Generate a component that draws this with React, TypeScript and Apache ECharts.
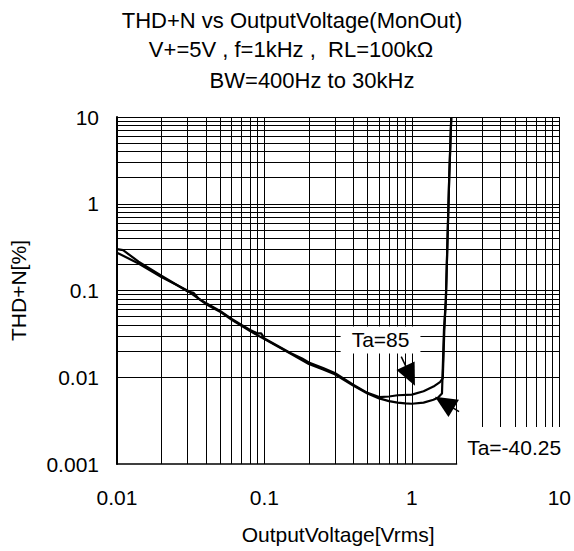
import React, { useEffect, useRef } from "react";
import * as echarts from "echarts";

// ---- data ----
const xTicks = [0.01, 0.1, 1, 10];
const xTickLabels = ["0.01", "0.1", "1", "10"];
const yTicks = [0.001, 0.01, 0.1, 1, 10];
const yTickLabels = ["0.001", "0.01", "0.1", "1", "10"];
const gridMultipliers = [1, 2, 3, 4, 5, 6, 7, 8, 9];

const ta85V = [0.01, 0.011, 0.014, 0.02, 0.025, 0.03, 0.033, 0.036, 0.04, 0.05, 0.06, 0.07, 0.08, 0.09, 0.095, 0.1, 0.12, 0.15, 0.18, 0.2, 0.25, 0.3, 0.4, 0.5, 0.6, 0.7, 0.8, 1.0, 1.2, 1.4, 1.55, 1.62, 1.66, 1.7, 1.79, 1.85];
const ta85T = [0.3, 0.292, 0.215, 0.148, 0.118, 0.098, 0.094, 0.08, 0.072, 0.058, 0.047, 0.04, 0.035, 0.032, 0.032, 0.028, 0.0235, 0.019, 0.0165, 0.0148, 0.0128, 0.0112, 0.0082, 0.0066, 0.0059, 0.006, 0.0062, 0.0063, 0.0069, 0.0078, 0.0088, 0.0097, 0.035, 0.078, 1.9, 10];

const ta40V = [0.01, 0.014, 0.02, 0.03, 0.04, 0.05, 0.06, 0.08, 0.1, 0.15, 0.2, 0.25, 0.3, 0.4, 0.5, 0.6, 0.7, 0.8, 0.9, 1.0, 1.2, 1.4, 1.5, 1.6, 1.65, 1.7, 1.79, 1.85];
const ta40T = [0.273, 0.205, 0.143, 0.1, 0.07, 0.057, 0.046, 0.034, 0.0275, 0.0188, 0.0142, 0.0123, 0.0108, 0.008, 0.0065, 0.0057, 0.0053, 0.0051, 0.005, 0.00495, 0.0051, 0.0055, 0.0058, 0.0065, 0.035, 0.078, 1.9, 10];

const labelTexts = ["Ta=85", "Ta=-40.25"];

const FONT = "'Liberation Sans', Arial, sans-serif";

function pairs(xs: number[], ys: number[]) {
  return xs.map((x, i) => [x, ys[i]]);
}

function lookupLabel(ticks: number[], labels: string[]) {
  return (v: number) => {
    for (let i = 0; i < ticks.length; i++) {
      if (Math.abs(Math.log10(v) - Math.log10(ticks[i])) < 1e-6) return labels[i];
    }
    return "";
  };
}

function gridValues(ticks: number[]) {
  const out: number[] = [];
  for (let i = 0; i < ticks.length - 1; i++) {
    for (const m of gridMultipliers) out.push(ticks[i] * m);
  }
  out.push(ticks[ticks.length - 1]);
  return out;
}

export default function App() {
  const ref = useRef<HTMLDivElement>(null);
  useEffect(() => {
    const chart = echarts.init(ref.current!, null, { renderer: "svg" });
    const gridLines = [
      ...gridValues(xTicks).map((v) => ({ xAxis: v })),
      ...gridValues(yTicks).map((v) => ({ yAxis: v })),
    ];
    const option: any = {
      animation: false,
      backgroundColor: "#fff",
      textStyle: { fontFamily: FONT, color: "#000" },
      graphic: [
        { type: "text", x: 292, y: 20, style: { text: "THD+N vs OutputVoltage(MonOut)", font: `22px ${FONT}`, fill: "#000", textAlign: "center", textVerticalAlign: "middle" } },
        { type: "text", x: 291, y: 49, style: { text: "V+=5V , f=1kHz ,  RL=100kΩ", font: `22px ${FONT}`, fill: "#000", textAlign: "center", textVerticalAlign: "middle" } },
        { type: "text", x: 312, y: 80, style: { text: "BW=400Hz to 30kHz", font: `22px ${FONT}`, fill: "#000", textAlign: "center", textVerticalAlign: "middle" } },
      ],
      grid: { left: 115, right: 13, top: 117, bottom: 87, containLabel: false },
      xAxis: {
        type: "log",
        logBase: 10,
        min: 0.01,
        max: 10,
        name: "OutputVoltage[Vrms]",
        nameLocation: "middle",
        nameGap: 60,
        nameTextStyle: { fontSize: 21, color: "#000", fontFamily: FONT },
        axisLine: { show: true, lineStyle: { color: "#000", width: 1.5 } },
        axisTick: { show: false },
        splitLine: { show: false },
        axisLabel: { fontSize: 21, color: "#000", fontFamily: FONT, margin: 23, formatter: lookupLabel(xTicks, xTickLabels) },
      },
      yAxis: {
        type: "log",
        logBase: 10,
        min: 0.001,
        max: 10,
        name: "THD+N[%]",
        nameLocation: "middle",
        nameRotate: 90,
        nameGap: 88,
        nameTextStyle: { fontSize: 21, color: "#000", fontFamily: FONT },
        axisLine: { show: true, lineStyle: { color: "#000", width: 2 } },
        axisTick: { show: false },
        splitLine: { show: false },
        axisLabel: { fontSize: 21, color: "#000", fontFamily: FONT, margin: 18, formatter: lookupLabel(yTicks, yTickLabels) },
      },
      series: [
        {
          type: "line",
          name: "grid",
          z: 1,
          silent: true,
          data: [[0.01, 0.3]],
          showSymbol: false,
          lineStyle: { width: 0 },
          markLine: {
            silent: true,
            symbol: ["none", "none"],
            label: { show: false },
            lineStyle: { color: "#000", width: 1, type: "solid" },
            emphasis: { disabled: true },
            data: gridLines,
          },
        },
        {
          type: "line",
          name: labelTexts[0],
          z: 3,
          data: pairs(ta85V, ta85T),
          showSymbol: false,
          smooth: false,
          lineStyle: { color: "#000", width: 2.2 },
          markLine: {
            silent: true,
            label: { show: false },
            lineStyle: { color: "#000", width: 1.5, type: "solid" },
            itemStyle: { color: "#000" },
            emphasis: { disabled: true },
            data: [[
              { coord: [0.847, 0.01726], symbol: "none" },
              { coord: [0.975, 0.0104], symbol: "triangle", symbolSize: [20, 22] },
            ]],
          },
          markPoint: {
            silent: true,
            symbol: "rect",
            symbolSize: 1,
            itemStyle: { color: "rgba(0,0,0,0)" },
            data: [{
              coord: [0.613, 0.0269],
              label: { show: true, position: "inside", formatter: labelTexts[0], color: "#000", fontSize: 21, fontFamily: FONT, backgroundColor: "#fff", padding: [3, 11], lineHeight: 21 },
            }],
          },
        },
        {
          type: "line",
          name: labelTexts[1],
          z: 3,
          data: pairs(ta40V, ta40T),
          showSymbol: false,
          smooth: false,
          lineStyle: { color: "#000", width: 2.2 },
          markLine: {
            silent: true,
            label: { show: false },
            lineStyle: { color: "#000", width: 1.5, type: "solid" },
            itemStyle: { color: "#000" },
            emphasis: { disabled: true },
            data: [[
              { coord: [2.089, 0.00401], symbol: "none" },
              { coord: [1.66, 0.0051], symbol: "triangle", symbolSize: [20, 22] },
            ]],
          },
          markPoint: {
            silent: true,
            symbol: "rect",
            symbolSize: 1,
            itemStyle: { color: "rgba(0,0,0,0)" },
            data: [{
              coord: [4.94, 0.00155],
              label: { show: true, position: "inside", formatter: labelTexts[1], color: "#000", fontSize: 21, fontFamily: FONT, backgroundColor: "#fff", padding: [4, 10, 15, 10], lineHeight: 22 },
            }],
          },
        },
      ],
    };
    chart.setOption(option);
    return () => chart.dispose();
  }, []);
  return <div ref={ref} style={{ position: "fixed", left: 0, top: 0, width: 574, height: 551, background: "#fff" }} />;
}
